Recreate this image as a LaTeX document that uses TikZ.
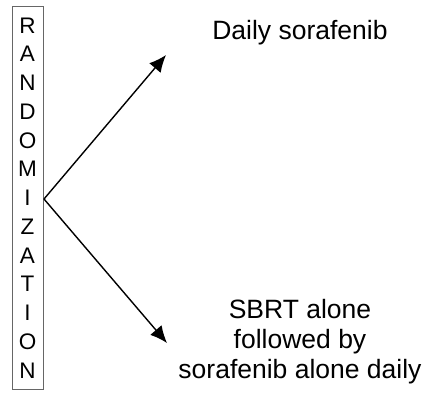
\documentclass[tikz,border=0pt]{standalone}
\usepackage{fontspec}
\setmainfont{Liberation Sans}
\usetikzlibrary{arrows.meta}
\begin{document}
\begin{tikzpicture}[x=1pt,y=-1pt,
  letter/.style={inner sep=0pt,anchor=base,font=\fontsize{22.5}{26}\selectfont},
  label/.style={inner sep=0pt,anchor=base,align=center,font=\fontsize{26.5}{30}\selectfont},
  arr/.style={line width=1.4pt,-{Latex[length=17pt,width=15pt]}}]
\useasboundingbox (0,0) rectangle (425,392);
\node[draw=black!60,line width=1pt,minimum width=31pt,minimum height=383pt,inner sep=0pt] (rand) at (27.5,197.5) {};
\foreach \l [count=\i] in {R,A,N,D,O,M,I,Z,A,T,I,O,N}
  \node[letter] (l\i) at (27.5,{33+28.75*(\i-1)}) {\l};
\node[label] (arm1) at (300,39) {Daily sorafenib};
\node[label] (arm2) at (300,378) {SBRT alone\\followed by\\sorafenib alone daily};
\coordinate (split) at (44,199);
\coordinate (t1) at (166,55);
\coordinate (t2) at (167,343);
\draw[arr] (split) -- (t1);
\draw[arr] (split) -- (t2);
\end{tikzpicture}
\end{document}
